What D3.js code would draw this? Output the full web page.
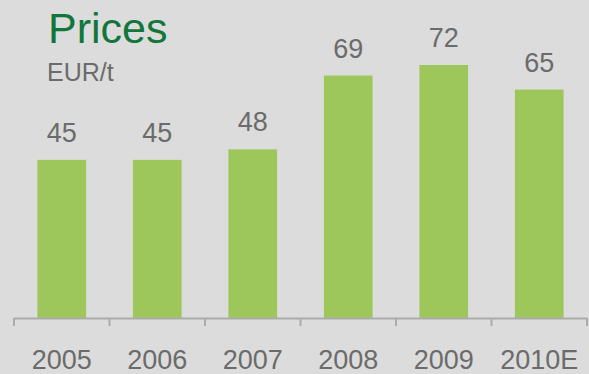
<!DOCTYPE html>
<html>
<head>
<meta charset="utf-8">
<script src="https://cdn.jsdelivr.net/npm/d3@7/dist/d3.min.js"></script>
<style>
  html, body { margin: 0; padding: 0; background: #dcdcdc; }
  svg { display: block; font-family: "Liberation Sans", Arial, sans-serif; }
</style>
</head>
<body>
<svg id="chart" width="589" height="374"></svg>
<script>
// Price data per year
const years = ["2005", "2006", "2007", "2008", "2009", "2010E"];
const prices = [45, 45, 48, 69, 72, 65];
const title = "Prices";
const unit = "EUR/t";

const W = 589, H = 374;
const svg = d3.select("#chart");
svg.append("rect").attr("width", W).attr("height", H).attr("fill", "#dcdcdc");

const x = d3.scaleBand().domain(years).range([14, 587]).paddingInner(0.49).paddingOuter(0.245);
const y = d3.scaleLinear().domain([0, 72]).range([318, 65]);

// bars
svg.append("g").selectAll("rect")
  .data(prices)
  .join("rect")
  .attr("x", (d, i) => x(years[i]))
  .attr("width", x.bandwidth())
  .attr("y", d => y(d))
  .attr("height", d => y(0) - y(d))
  .attr("fill", "#9dc75b");

// value labels
svg.append("g").selectAll("text")
  .data(prices)
  .join("text")
  .attr("x", (d, i) => x(years[i]) + x.bandwidth() / 2)
  .attr("y", d => y(d) - 18)
  .attr("text-anchor", "middle")
  .attr("font-size", 27)
  .attr("fill", "#6b6b6b")
  .text(d => d);

// category axis: baseline with ticks between categories
const axis = svg.append("g");
axis.append("line")
  .attr("x1", 14).attr("x2", 587)
  .attr("y1", 318.5).attr("y2", 318.5)
  .attr("stroke", "#ababab").attr("stroke-width", 2);
const step = x.step();
const edges = d3.range(years.length + 1).map(i => 14 + i * (573 / years.length));
axis.selectAll("line.tick")
  .data(edges)
  .join("line")
  .attr("class", "tick")
  .attr("x1", d => d).attr("x2", d => d)
  .attr("y1", 318).attr("y2", 326)
  .attr("stroke", "#ababab").attr("stroke-width", 2);

axis.selectAll("text")
  .data(years)
  .join("text")
  .attr("x", d => x(d) + x.bandwidth() / 2)
  .attr("y", 369)
  .attr("text-anchor", "middle")
  .attr("font-size", 27)
  .attr("fill", "#6b6b6b")
  .text(d => d);

// title and unit
svg.append("text")
  .attr("x", 48).attr("y", 43)
  .attr("font-size", 43)
  .attr("fill", "#11763a")
  .text(title);
svg.append("text")
  .attr("x", 47).attr("y", 81)
  .attr("font-size", 25)
  .attr("fill", "#6b6b6b")
  .text(unit);
</script>
</body>
</html>
